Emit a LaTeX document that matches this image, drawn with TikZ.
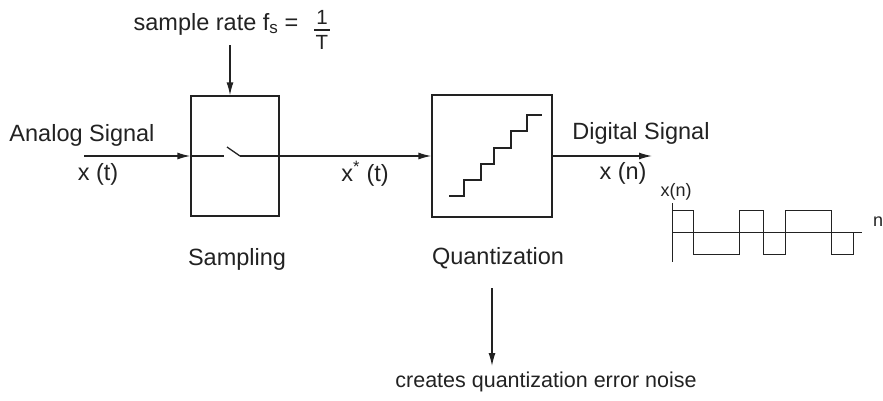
\documentclass[tikz,border=0pt]{standalone}
\usepackage{fontspec}
\setmainfont{Liberation Sans}
\usetikzlibrary{arrows.meta}
\definecolor{ink}{HTML}{222222}
\begin{document}
\begin{tikzpicture}[x=1pt,y=-1pt,
  line width=1.3pt, draw=ink,
  box/.style={draw=ink, line width=1.3pt, minimum width=#1, inner sep=0pt},
  lbl/.style={text=ink, inner sep=0pt, font=\fontsize{23.5}{28}\selectfont},
  small/.style={text=ink, inner sep=0pt, font=\fontsize{18}{21}\selectfont},
  frac/.style={text=ink, inner sep=0pt, font=\fontsize{20.5}{24}\selectfont},
  tiny/.style={text=ink, inner sep=0pt, font=\fontsize{21.5}{25}\selectfont},
  sig/.style={-{Latex[length=13pt,width=7pt]}, draw=ink, line width=1.3pt},
  wave/.style={draw=ink, line width=0.9pt}]
\useasboundingbox (0,0) rectangle (883,400);
% boxes
\node[box=88pt, minimum height=120pt] (samp) at (235,156) {};
\node[box=120pt, minimum height=122pt] (quant) at (492,156) {};
% labels
\node[lbl] (analog) at (82,135) {Analog Signal};
\node[lbl] (xt) at (98,174) {x (t)};
\node[lbl] (sampling) at (237,259) {Sampling};
\node[lbl] (xst) at (365,174) {x\textsuperscript{*} (t)};
\node[lbl] (quantl) at (498,258) {Quantization};
\node[lbl] (digital) at (641,133) {Digital Signal};
\node[lbl] (xn) at (623,173) {x (n)};
\node[tiny] (noise) at (546,382) {creates quantization error noise};
% sample rate
\node[lbl, anchor=base west] (rate) at (133,30) {sample rate f\raisebox{-0.3ex}{\fontsize{17}{20}\selectfont s} =};
\node[frac] (one) at (322,17) {1};
\node[frac] (tee) at (322,42) {T};
\draw[line width=1.3pt] (314,30) -- (330,30);
\coordinate (ratefoot) at (230,45);
\draw[sig] (ratefoot) -- (samp.north -| ratefoot);
% signal path
\coordinate (in) at (84,156);
\draw[sig] (in) -- (samp.west);
\draw (samp.west) -- (224,156);
\draw (227,147) -- (240,156);
\draw (240,156) -- (samp.east);
\draw[sig] (samp.east) -- (quant.west);
\coordinate (out) at (652,156);
\draw[sig] (quant.east) -- (out);
% staircase
\draw (449,196) -- (464,196) -- (464,180) -- (481,180) -- (481,164) -- (494,164)
  -- (494,148) -- (511,148) -- (511,131) -- (527,131) -- (527,115) -- (542,115);
% quantization noise arrow
\coordinate (qfoot) at (492,288);
\coordinate (qtip) at (492,366);
\draw[sig] (qfoot) -- (qtip);
% waveform
\node[small] (xnl) at (676,192) {x(n)};
\node[small] (nl) at (878,222) {n};
\coordinate (yb) at (672,203);
\coordinate (yt) at (672,262);
\draw[wave] (yb) -- (yt);
\draw[wave] (672,232) -- (862,232);
\draw[wave] (672,210) -- (693,210) -- (693,254) -- (739,254) -- (739,210) -- (763,210)
  -- (763,254) -- (785,254) -- (785,210) -- (831,210) -- (831,254) -- (853,254) -- (853,232);
\end{tikzpicture}
\end{document}
